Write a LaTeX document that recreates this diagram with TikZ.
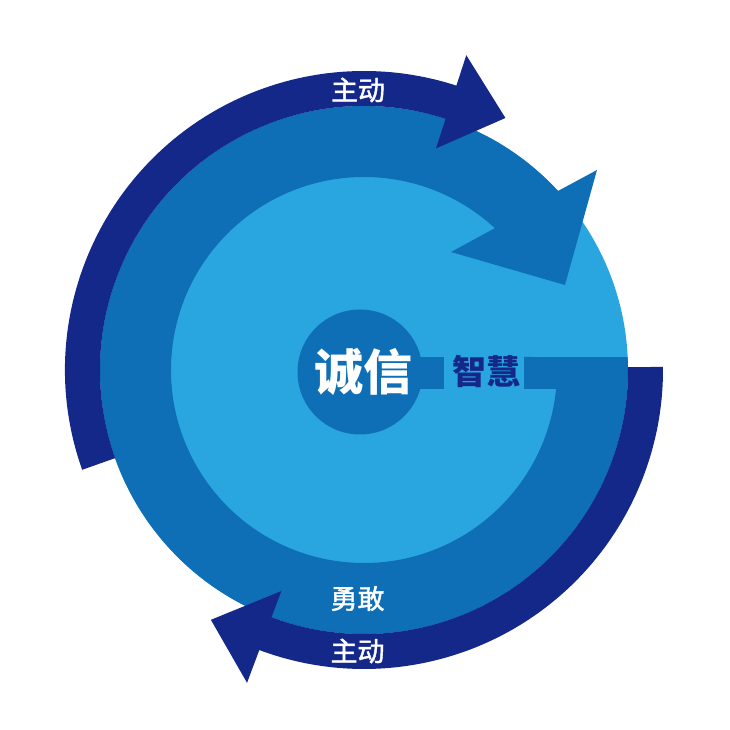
\documentclass[tikz,border=0pt]{standalone}
\usepackage{fontspec}
\newfontfamily\cjk{Noto Sans CJK SC}
\newfontfamily\cjkmid{Noto Sans CJK SC}[FakeBold=1.6]
\definecolor{navy}{HTML}{14288A}
\definecolor{midblue}{HTML}{0F6FB6}
\definecolor{lightblue}{HTML}{29A6DF}
\begin{document}
\begin{tikzpicture}[x=1pt,y=1pt,
  navyshape/.style={fill=navy},
  midshape/.style={fill=midblue},
  lightshape/.style={fill=lightblue},
  ringlabel/.style={text=white, inner sep=0pt, font=\cjkmid\fontsize{27}{27}\selectfont},
  corelabel/.style={text=white, inner sep=0pt, font=\cjk\bfseries\fontsize{49}{49}\selectfont},
  barlabel/.style={text=navy, inner sep=0pt, font=\cjk\bfseries\fontsize{34}{34}\selectfont}]
\useasboundingbox (-364,-360) rectangle (366,370);
\fill[white] (-364,-360) rectangle (366,370);
% light disk
\fill[lightshape] (0,0) circle[radius=264];
% medium G ring with arrowhead
\fill[midshape] (42.7:264) arc[start angle=42.7, end angle=362.82, radius=264]
  -- (160,13) -- (160,-19) -- (354.35:193)
  arc[start angle=354.35, end angle=47.3, radius=193]
  -- (87,118) -- (201,85) -- (233,200) -- cycle;
% top navy arc arrow
\fill[navyshape] (199.5:299) arc[start angle=199.5, end angle=72, radius=299]
  -- (72:331) -- (60.7:289) -- (72:233) -- (72:264)
  arc[start angle=72, end angle=199.5, radius=264] -- cycle;
% bottom navy arc arrow
\fill[navyshape] (0.6:299) arc[start angle=0.6, end angle=-110.5, radius=299]
  -- (-110.5:334) -- (-121.5:293) -- (-110.5:236) -- (-110.5:264)
  arc[start angle=-110.5, end angle=0.6, radius=264] -- cycle;
% bar and core
\fill[midshape] (-4,-19) rectangle (80,13);
\fill[midshape] (-4,-2) circle[radius=62.5];
% labels
\node[corelabel] (core) at (-1,-1.5) {诚信};
\node[barlabel] (wisdom) at (122,-1) {智慧};
\node[ringlabel] (topactive) at (-6,280) {主动};
\node[ringlabel] (brave) at (-6.5,-228.5) {勇敢};
\node[ringlabel] (botactive) at (-6.5,-281) {主动};
\end{tikzpicture}
\end{document}
